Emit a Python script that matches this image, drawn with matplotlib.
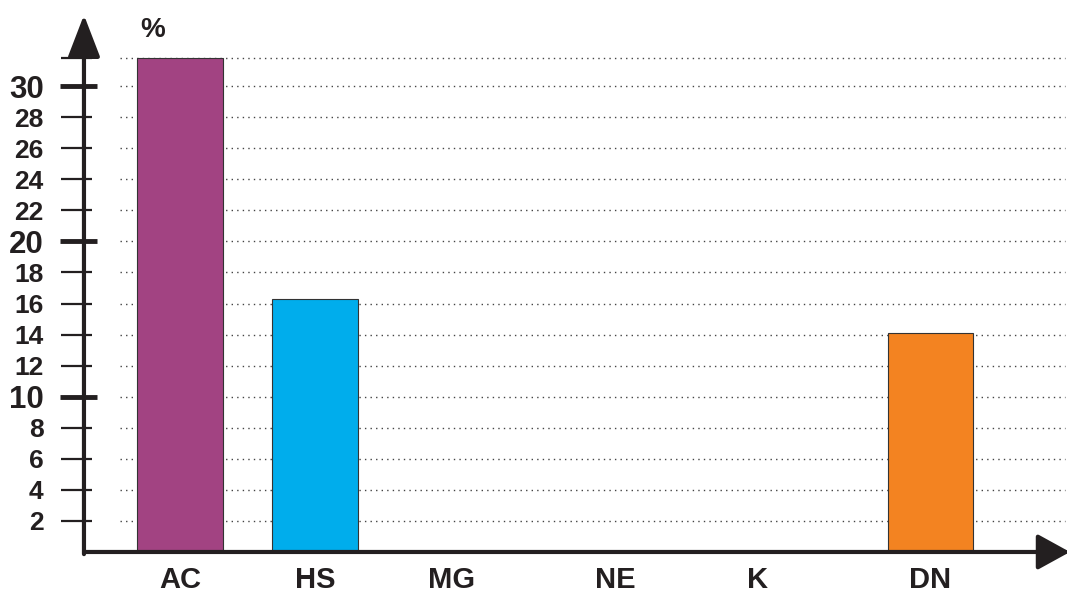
import matplotlib.pyplot as plt

plt.rcParams['font.family'] = ['Liberation Sans', 'DejaVu Sans']
plt.rcParams['font.weight'] = 'bold'

# Share of each group, in percent
categories = ['AC', 'HS', 'MG', 'NE', 'K', 'DN']
shares = [31.8, 16.3, 0, 0, 0, 14.1]
bar_colors = ['#a24382', '#00adec', '#8a8a8a', '#8a8a8a', '#8a8a8a', '#f38321']

y_ticks = [2, 4, 6, 8, 10, 12, 14, 16, 18, 20, 22, 24, 26, 28, 30, 31.8]
y_tick_labels = ['2', '4', '6', '8', '10', '12', '14', '16', '18', '20',
                 '22', '24', '26', '28', '30', '']
major_ticks = [10, 20, 30]

# layout: category centres along the x axis (uneven spacing)
x_centers = [0, 0.9, 1.81, 2.9, 3.85, 5.0]
bar_width = 0.567

fig = plt.figure(figsize=(10.67, 5.95), dpi=100)
ax = fig.add_axes([0.0787, 0.0723, 0.9213, 0.9025])
ax.set_xlim(-0.64, 5.913)
ax.set_ylim(0, 34.58)

for s in ax.spines.values():
    s.set_visible(False)

# dotted guide lines behind the bars
ytrans = ax.get_yaxis_transform()
ax.hlines(y_ticks, 0.037, 0.998, transform=ytrans, colors='#444444',
          linestyles=(0, (1, 3)), linewidth=1.0, zorder=1)

ax.bar(x_centers, shares, width=bar_width, color=bar_colors,
       edgecolor='#333333', linewidth=0.8, zorder=2)

# axes drawn as arrows
ax.annotate('', xy=(0, 1), xytext=(0, -0.004), xycoords='axes fraction',
            arrowprops=dict(arrowstyle='-|>,head_length=1.3,head_width=0.5',
                            mutation_scale=20, color='#231f20', lw=3,
                            shrinkA=0, shrinkB=0), zorder=4)
ax.annotate('', xy=(1.003, 0), xytext=(0, 0), xycoords='axes fraction',
            arrowprops=dict(arrowstyle='-|>,head_length=1.0,head_width=0.55',
                            mutation_scale=20, color='#231f20', lw=3,
                            shrinkA=0, shrinkB=0), zorder=4)

# tick marks crossing the y axis, heavier at 10, 20, 30
minor = [t for t in y_ticks if t not in major_ticks]
ax.hlines(minor, -0.0234, 0.008, transform=ytrans, colors='#231f20',
          linewidth=1.6, clip_on=False, zorder=4)
ax.hlines(major_ticks, -0.0245, 0.0135, transform=ytrans, colors='#231f20',
          linewidth=3.5, clip_on=False, zorder=4)

ax.set_yticks(y_ticks)
ax.set_yticklabels(y_tick_labels)
ax.tick_params(axis='y', length=0, pad=29, labelsize=19, labelcolor='#231f20')
for lbl, t in zip(ax.get_yticklabels(), y_ticks):
    if t in major_ticks:
        lbl.set_fontsize(22.5)

ax.set_xticks(x_centers)
ax.set_xticklabels(categories)
ax.tick_params(axis='x', length=0, pad=10, labelsize=21, labelcolor='#231f20')

ax.text(-0.18, 0.972, '%', transform=ax.get_xaxis_transform(),
        ha='center', va='center', fontsize=20, fontweight='bold',
        color='#231f20')

fig.savefig('out.png', dpi=100)
